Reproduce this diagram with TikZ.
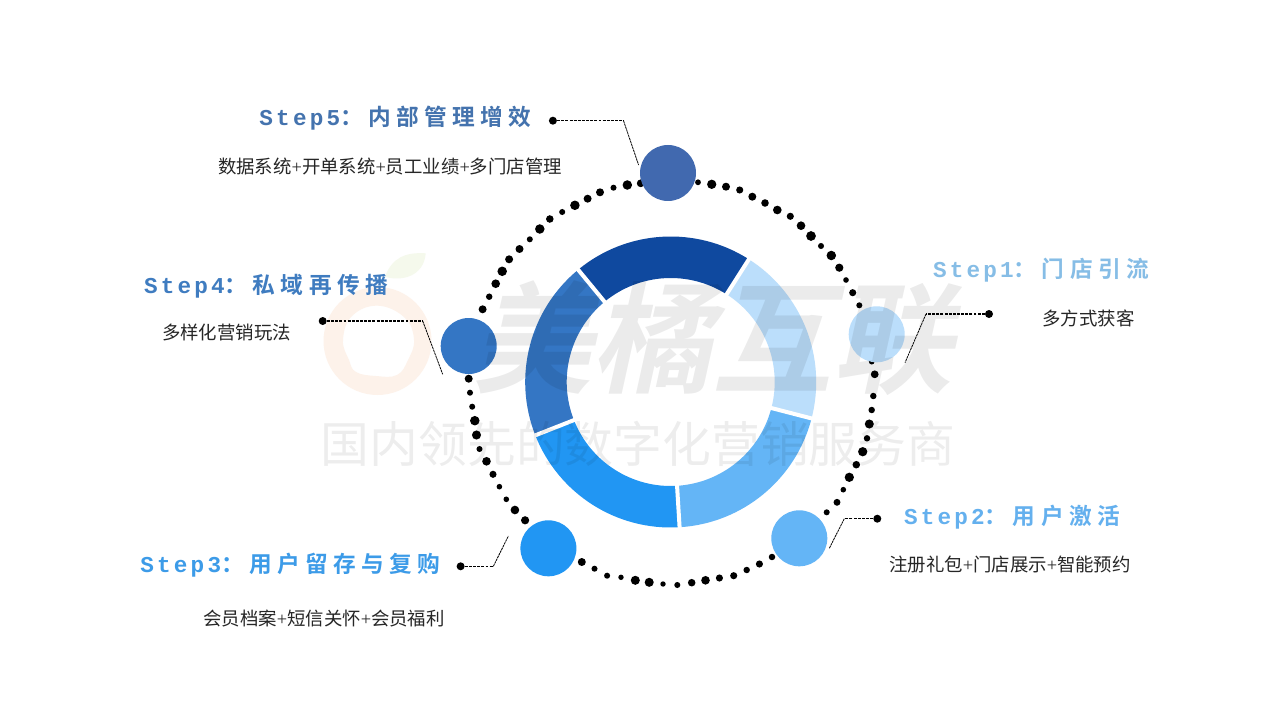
\documentclass[tikz,border=0pt]{standalone}
\usepackage{fontspec}
\setmainfont{Liberation Serif}
\newfontfamily\bodycjk{Noto Sans CJK SC}
\newfontfamily\headcjk[LetterSpace=24]{Noto Sans CJK SC Bold}
\newfontfamily\headlat[LetterSpace=14]{Liberation Mono}
\newfontfamily\wmbig[FakeSlant=0.22]{Noto Sans CJK SC Bold}
\newfontfamily\wmsmall{Noto Sans CJK SC}
\newcommand{\headtxt}[2]{{\headlat\bfseries #1}{\headcjk ：#2}}
\newcommand{\plusg}{{\rmfamily +}}
\definecolor{cA}{HTML}{BBDEFB}
\definecolor{cB}{HTML}{64B5F6}
\definecolor{cC}{HTML}{2196F3}
\definecolor{cD}{HTML}{3476C4}
\definecolor{cE}{HTML}{0F499F}
\definecolor{cEc}{HTML}{4169AF}
\definecolor{hA}{HTML}{86BDE6}
\definecolor{hB}{HTML}{64B0EE}
\definecolor{hC}{HTML}{3C9BE8}
\definecolor{hD}{HTML}{3F7CC0}
\definecolor{hE}{HTML}{4473AE}
\tikzset{
  headnode/.style={inner sep=0pt,font=\fontsize{17pt}{18pt}\selectfont},
  bodynode/.style={inner sep=0pt,text=black!85,font=\fontsize{13.8pt}{15pt}\selectfont\bodycjk},
  stepcircle/.style={circle,inner sep=0pt,minimum size=42pt},
  enddot/.style={circle,fill=black,inner sep=0pt,minimum size=6pt},
  leaderh/.style={draw=black,line width=0.9pt,dash pattern=on 2.2pt off 0.9pt},
  leaderd/.style={draw=black,line width=0.6pt,dash pattern=on 1.8pt off 0.5pt},
}
\newcommand{\sector}[3]{%
  \fill[#3] (#1:145.5) arc[start angle=#1,end angle=#2,radius=145.5]
     -- (#2:104) arc[start angle=#2,end angle=#1,radius=104] -- cycle;}
\begin{document}
\begin{tikzpicture}[x=0.75pt,y=-0.75pt]
\useasboundingbox (0,0) rectangle (1280,720);
\fill[white] (0,0) rectangle (1280,720);
% logo
\fill[color={rgb,255:red,253;green,242;blue,234},even odd rule]
   (377.5,341) circle [radius=54]
   plot[smooth cycle,tension=0.7] coordinates {(397,375) (408,360) (414,340) (405,318) (378,305.7) (352,316) (343,340) (349,360) (356,372) (376,376)};
\fill[color={rgb,255:red,245;green,249;blue,236}]
   (425.7,253.3) .. controls (405,252) and (392,258) .. (385,276.7)
   .. controls (402,282) and (424,276) .. cycle;
% dotted orbit
\foreach \px/\py/\pr in {
 640.7/183.3/3.6,627.3/185/4.4,613.5/187.7/2.8,600/192.3/3.7,587.6/198.7/3.7,574.9/205.3/4.4,562.2/212/2.8,549.8/219/3.5,539.8/229/4.4,529.8/239.3/2.8,519.5/249/3.7,509.1/259.3/3.7,502.2/271.3/4.4,495.7/283.7/4.0,489.2/296.7/3,482.6/309.3/3.7,
 468.7/378.7/3.7,470/392.7/2.8,472.2/406.7/2.8,474.8/420.7/4.4,476.5/435/4.2,479.5/449/2.8,486.5/461.3/4,493/474.3/3.3,499.4/486.7/2.6,506.3/499.3/2.6,514.9/510/4,525.1/520.3/3.8,
 581.8/562/3.7,594.5/568.7/2.8,607.1/575.7/2.8,621/577.3/2.5,635.3/580.3/4.2,649.2/582.3/4.2,663/584/2.5,677.3/585/2.8,691.7/582.7/3.5,705.5/580.3/4,719.4/578/3.3,733.7/575.7/3.3,746.7/570/3,759.4/564/3.3,772/557/3,
 826.7/512.3/2.8,837/502.3/3.2,843.3/489.7/2.6,849.3/477.3/4.3,856.3/464.7/3.5,862.7/451.7/4.3,867/438.3/3,869.3/424/4.2,871.7/410/3,873.3/396/3,874.7/374.3/3.6,871.7/361.7/2.6,
 859.3/305.3/2.8,852.7/292.7/3.3,846/280/2.6,839.3/267.7/3.8,831.3/255.5/4.4,821/246/2.8,811/236/4.5,801/225.7/4,790.3/216.3/3.3,777.3/210/4,765/203/3.5,752.3/196.7/3.7,739.7/190/3.3,726/186.7/3.7,711.7/184.3/4.3,698/182.3/2.7}
 {\pgfmathsetmacro{\prr}{\pr*1.08}\fill[black] (\px,\py) circle [x=0.75pt,y=0.75pt,radius=\prr];}
% ring
\begin{scope}[shift={(670.7,382)},x=0.75pt,y=0.75pt]
\sector{57.5}{-14.5}{cA}
\sector{-14.5}{-86.5}{cB}
\sector{-86.5}{-158.5}{cC}
\sector{201.5}{129.5}{cD}
\sector{129.5}{57.5}{cE}
\foreach \a in {57.5,-14.5,-86.5,-158.5,129.5}
  \draw[white,line width=3pt] (\a:100) -- (\a:150);
\end{scope}
% step circles
\node[stepcircle,fill=cA] (c1) at (876.7,334.3) {};
\node[stepcircle,fill=cB] (c2) at (799.3,538.3) {};
\node[stepcircle,fill=cC] (c3) at (548.4,548.3) {};
\node[stepcircle,fill=cD] (c4) at (468.7,346) {};
\node[stepcircle,fill=cEc] (c5) at (668,173) {};
% leaders
\node[enddot] (d1) at (989,314) {};
\coordinate (e1) at (926,314); \coordinate (t1) at (905,362.7);
\node[enddot] (d2) at (877.3,518.7) {};
\coordinate (e2) at (844.3,518.7); \coordinate (t2) at (829.3,548.3);
\node[enddot] (d3) at (460.6,566.3) {};
\coordinate (e3) at (493.3,566.3); \coordinate (t3) at (508.4,536);
\node[enddot] (d4) at (322.7,321) {};
\coordinate (e4) at (422.7,321); \coordinate (t4) at (442.7,374.3);
\node[enddot] (d5) at (552.9,120.7) {};
\coordinate (e5) at (623.5,120.7); \coordinate (t5) at (638.6,165);
\foreach \i in {1,...,5}{
  \draw[leaderh] (d\i) -- (e\i);
  \draw[leaderd] (e\i) -- (t\i);
}
% headings
\node[headnode,text=hA] (h1) at (1041,270) {\headtxt{Step1}{门店引流}};
\node[headnode,text=hB] (h2) at (1012,517) {\headtxt{Step2}{用户激活}};
\node[headnode,text=hC] (h3) at (290.5,565) {\headtxt{Step3}{用户留存与复购}};
\node[headnode,text=hD] (h4) at (266,286) {\headtxt{Step4}{私域再传播}};
\node[headnode,text=hE] (h5) at (395.5,118) {\headtxt{Step5}{内部管理增效}};
% body texts
\node[bodynode] (b1) at (1088.5,318.5) {多方式获客};
\node[bodynode] (b2) at (1010,564.5) {注册礼包\plusg 门店展示\plusg 智能预约};
\node[bodynode] (b3) at (324,618.5) {会员档案\plusg 短信关怀\plusg 会员福利};
\node[bodynode] (b4) at (226.5,332.5) {多样化营销玩法};
\node[bodynode] (b5) at (390,166.5) {数据系统\plusg 开单系统\plusg 员工业绩\plusg 多门店管理};
% watermark
\node[inner sep=0pt,text=black,text opacity=0.08,font=\fontsize{90pt}{94pt}\selectfont\wmbig] (wm1) at (712,338) {美橘互联};
\node[inner sep=0pt,text=black,text opacity=0.07,font=\fontsize{36.6pt}{40pt}\selectfont\wmsmall] (wm2) at (638,444) {国内领先的数字化营销服务商};
\end{tikzpicture}
\end{document}
